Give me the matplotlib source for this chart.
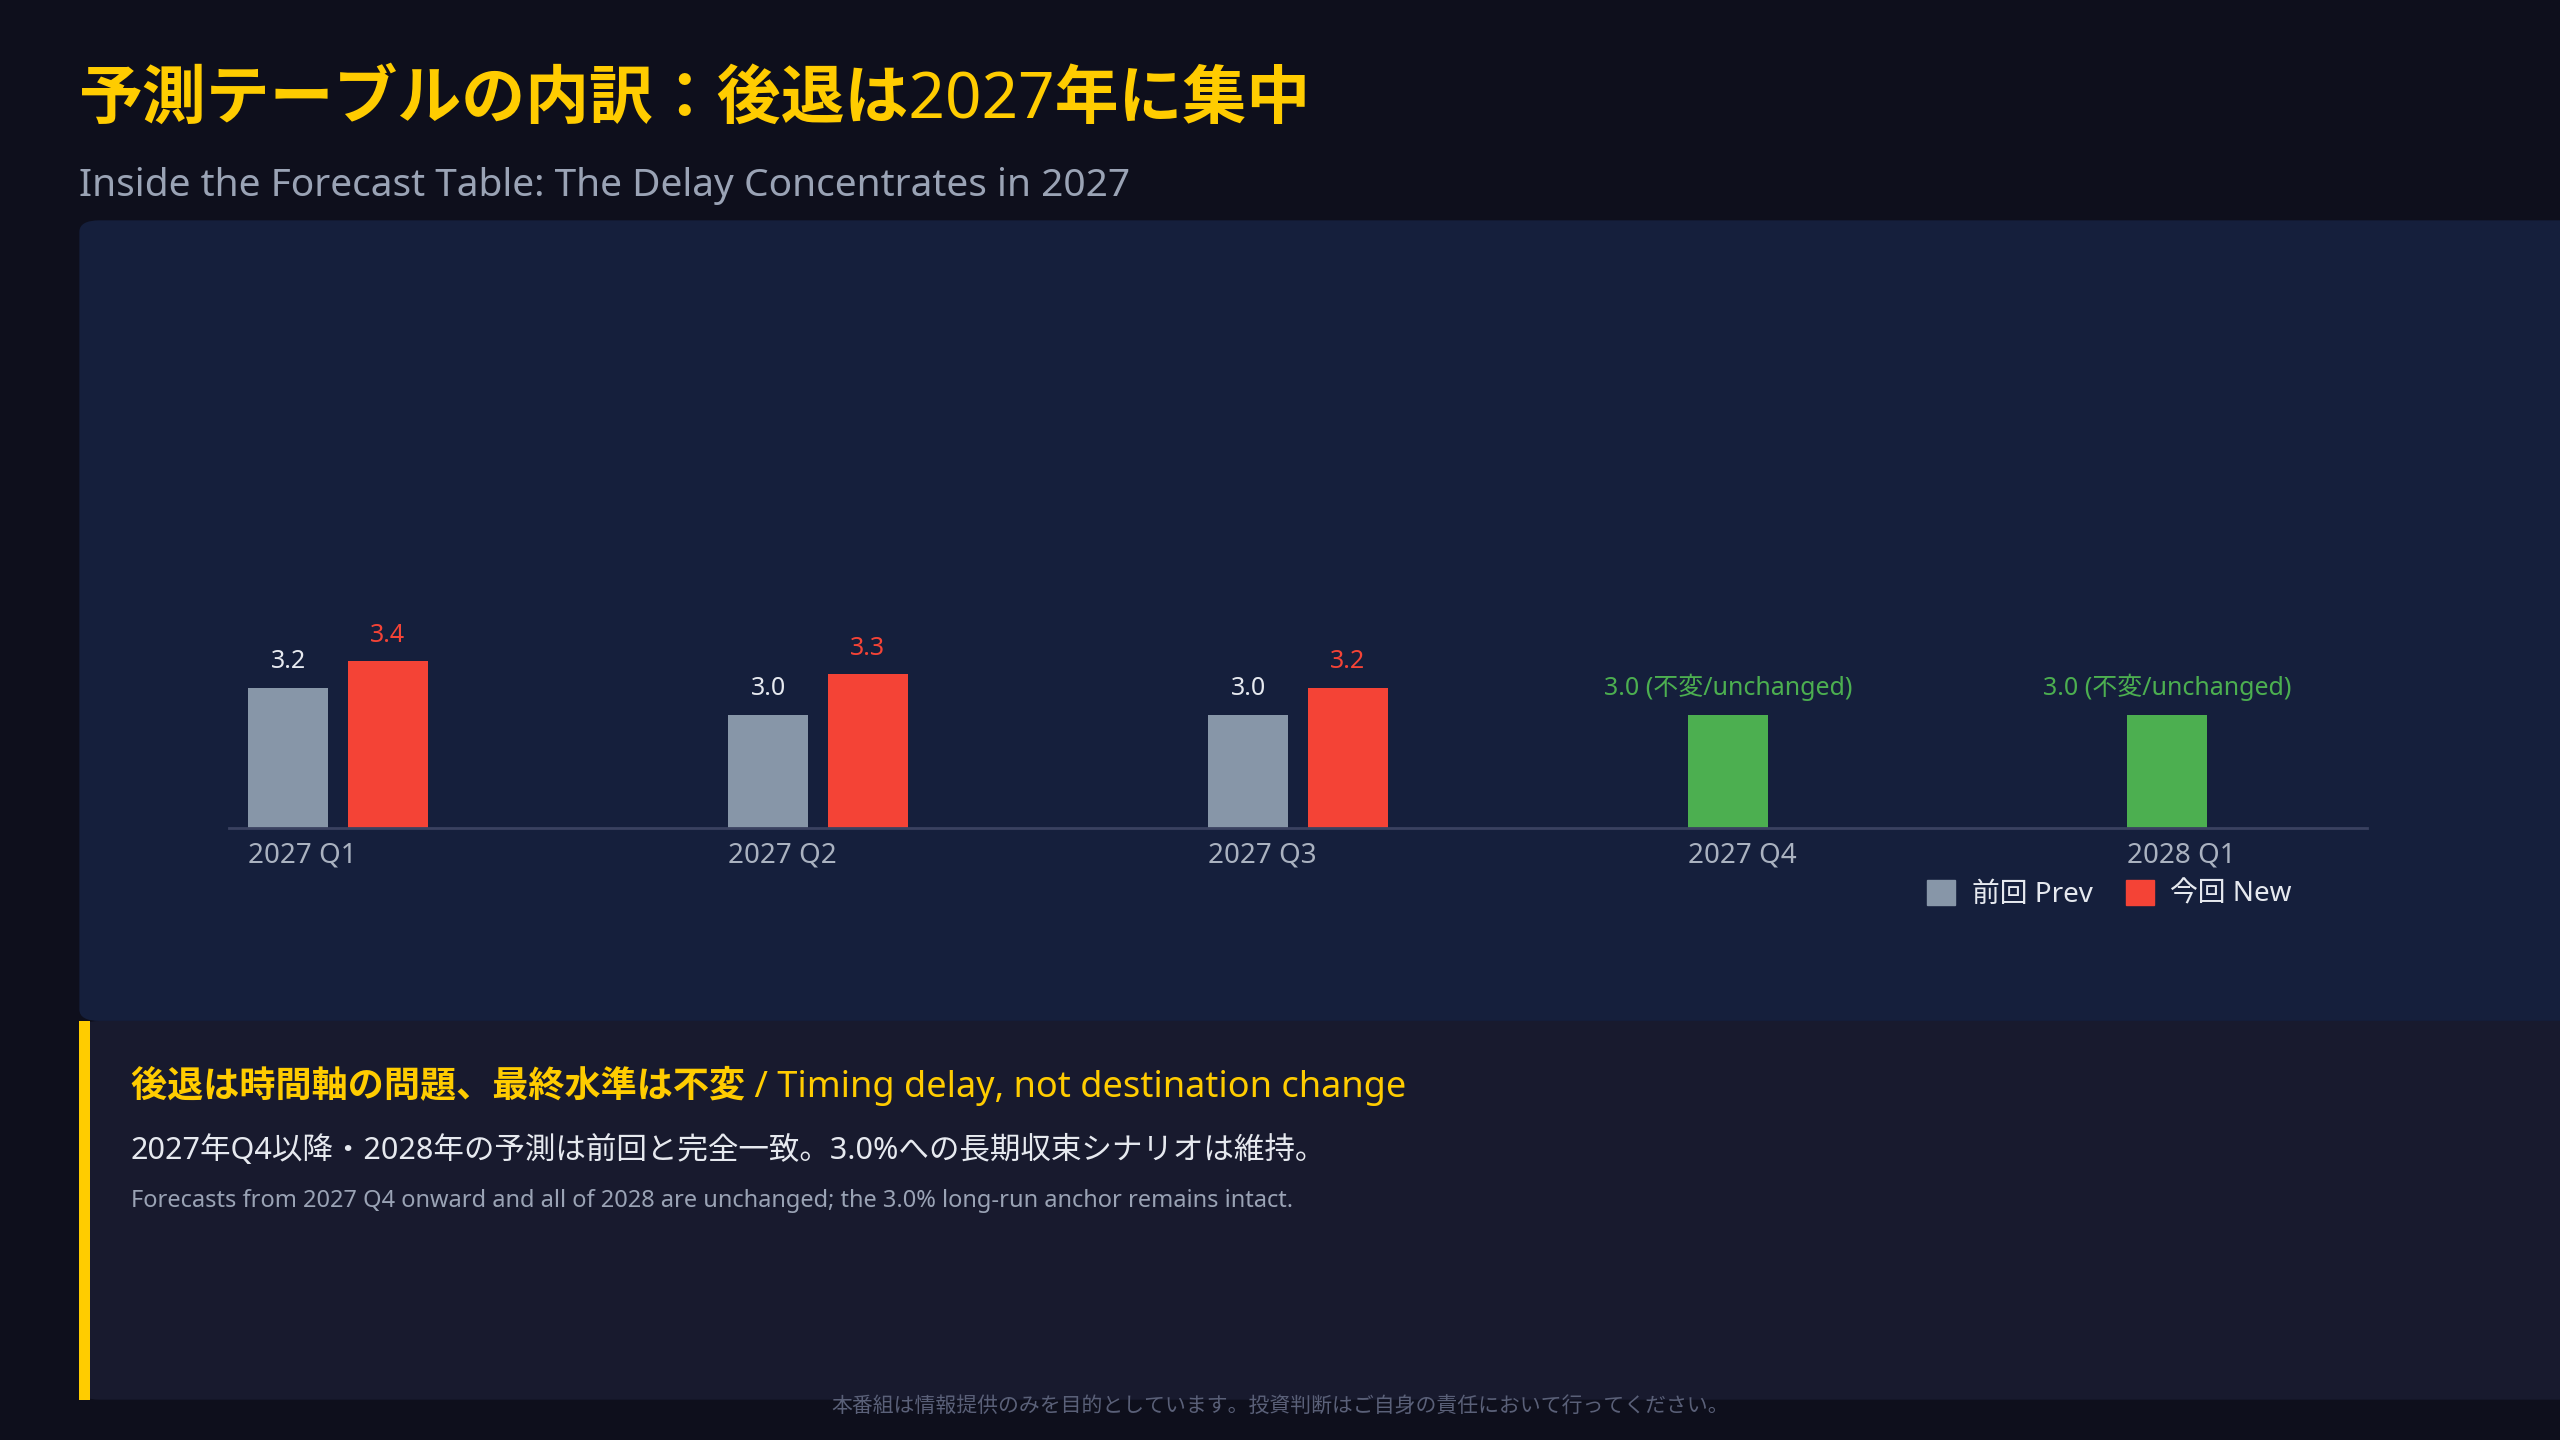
import matplotlib
matplotlib.use('Agg')
import matplotlib.pyplot as plt
from matplotlib.patches import Rectangle, FancyBboxPatch

plt.rcParams['font.family'] = ['Noto Sans', 'Noto Sans CJK JP', 'DejaVu Sans']

# DATA
quarters = ['2027 Q1', '2027 Q2', '2027 Q3', '2027 Q4', '2028 Q1']
group_pos = [0, 1, 2, 3, 3.915]
prev = [3.2, 3.0, 3.0, None, None]
new = [3.4, 3.3, 3.2, None, None]
unchanged = [None, None, None, 3.0, 3.0]

BG = '#0e0f1c'; PANEL = '#151f3c'; BOX = '#181a2e'
YEL = '#ffcc00'; GRAY = '#8796a8'; RED = '#f44336'; GREEN = '#4caf50'

fig = plt.figure(figsize=(25.6, 14.4), dpi=100, facecolor=BG)

fig.text(0.031, 0.93, '予測テーブルの内訳：後退は2027年に集中', color=YEL,
         fontsize=46, fontweight='bold', va='center')
fig.text(0.031, 0.871, 'Inside the Forecast Table: The Delay Concentrates in 2027',
         color='#9aa3b5', fontsize=28, va='center')

# panels
fig.patches.append(FancyBboxPatch((0.031, 0.291), 1.0, 0.556, boxstyle='round,pad=0,rounding_size=0.008',
                                  transform=fig.transFigure, facecolor=PANEL, edgecolor='none', zorder=-2))
fig.patches.append(FancyBboxPatch((0.031, 0.028), 1.0, 0.263, boxstyle='round,pad=0,rounding_size=0.008',
                                  transform=fig.transFigure, facecolor=BOX, edgecolor='none', zorder=-2))
fig.patches.append(Rectangle((0.031, 0.028), 0.004, 0.263, transform=fig.transFigure,
                             facecolor=YEL, edgecolor='none', zorder=-1))

ax = fig.add_axes([0.0893, 0.425, 0.8354, 0.394])
ax.set_zorder(3)
ax.set_facecolor('none')
w = 0.167; off = 0.207
for i, q in enumerate(quarters):
    x = group_pos[i]
    if prev[i] is not None:
        ax.bar(x, prev[i], w, color=GRAY, align='edge')
        ax.bar(x + off, new[i], w, color=RED, align='edge')
        ax.text(x + w / 2, prev[i] + 0.1, f'{prev[i]:.1f}', color='#e6e9ef', ha='center', va='bottom', fontsize=18)
        ax.text(x + off + w / 2, new[i] + 0.1, f'{new[i]:.1f}', color=RED, ha='center', va='bottom', fontsize=18)
    else:
        ax.bar(x, unchanged[i], w, color=GREEN, align='edge')
        ax.text(x + w / 2, unchanged[i] + 0.1, f'{unchanged[i]:.1f} (不変/unchanged)', color=GREEN,
                ha='center', va='bottom', fontsize=18)
ax.set_ylim(2.15, 6.4)
ax.set_xlim(-0.041, 4.415)
ax.set_xticks(group_pos)
ax.set_xticklabels(quarters, ha='left', color='#aab2c0', fontsize=20)
ax.tick_params(axis='x', length=0, pad=10)
ax.set_yticks([])
for s in ['top', 'right', 'left']:
    ax.spines[s].set_visible(False)
ax.spines['bottom'].set_color('#3a4160')
ax.spines['bottom'].set_linewidth(2)

h1 = Rectangle((0, 0), 1, 1, color=GRAY)
h2 = Rectangle((0, 0), 1, 1, color=RED)
fig.legend([h1, h2], ['前回 Prev', '今回 New'], loc='center right', bbox_to_anchor=(0.905, 0.379),
           ncol=2, frameon=False, fontsize=20, labelcolor='#e6e9ef', handlelength=1.0, handleheight=1.0,
           columnspacing=1.2, handletextpad=0.6)

fig.text(0.051, 0.246, '後退は時間軸の問題、最終水準は不変 / Timing delay, not destination change',
         color=YEL, fontsize=26, fontweight='bold', va='center')
fig.text(0.051, 0.201, '2027年Q4以降・2028年の予測は前回と完全一致。3.0%への長期収束シナリオは維持。',
         color='#e6e9ef', fontsize=22, va='center')
fig.text(0.051, 0.166, 'Forecasts from 2027 Q4 onward and all of 2028 are unchanged; the 3.0% long-run anchor remains intact.',
         color='#9aa3b5', fontsize=17, va='center')
fig.text(0.5, 0.023, '本番組は情報提供のみを目的としています。投資判断はご自身の責任において行ってください。',
         color='#5a6078', fontsize=15, ha='center', va='center')

fig.savefig('out.png', dpi=100, facecolor=BG)
